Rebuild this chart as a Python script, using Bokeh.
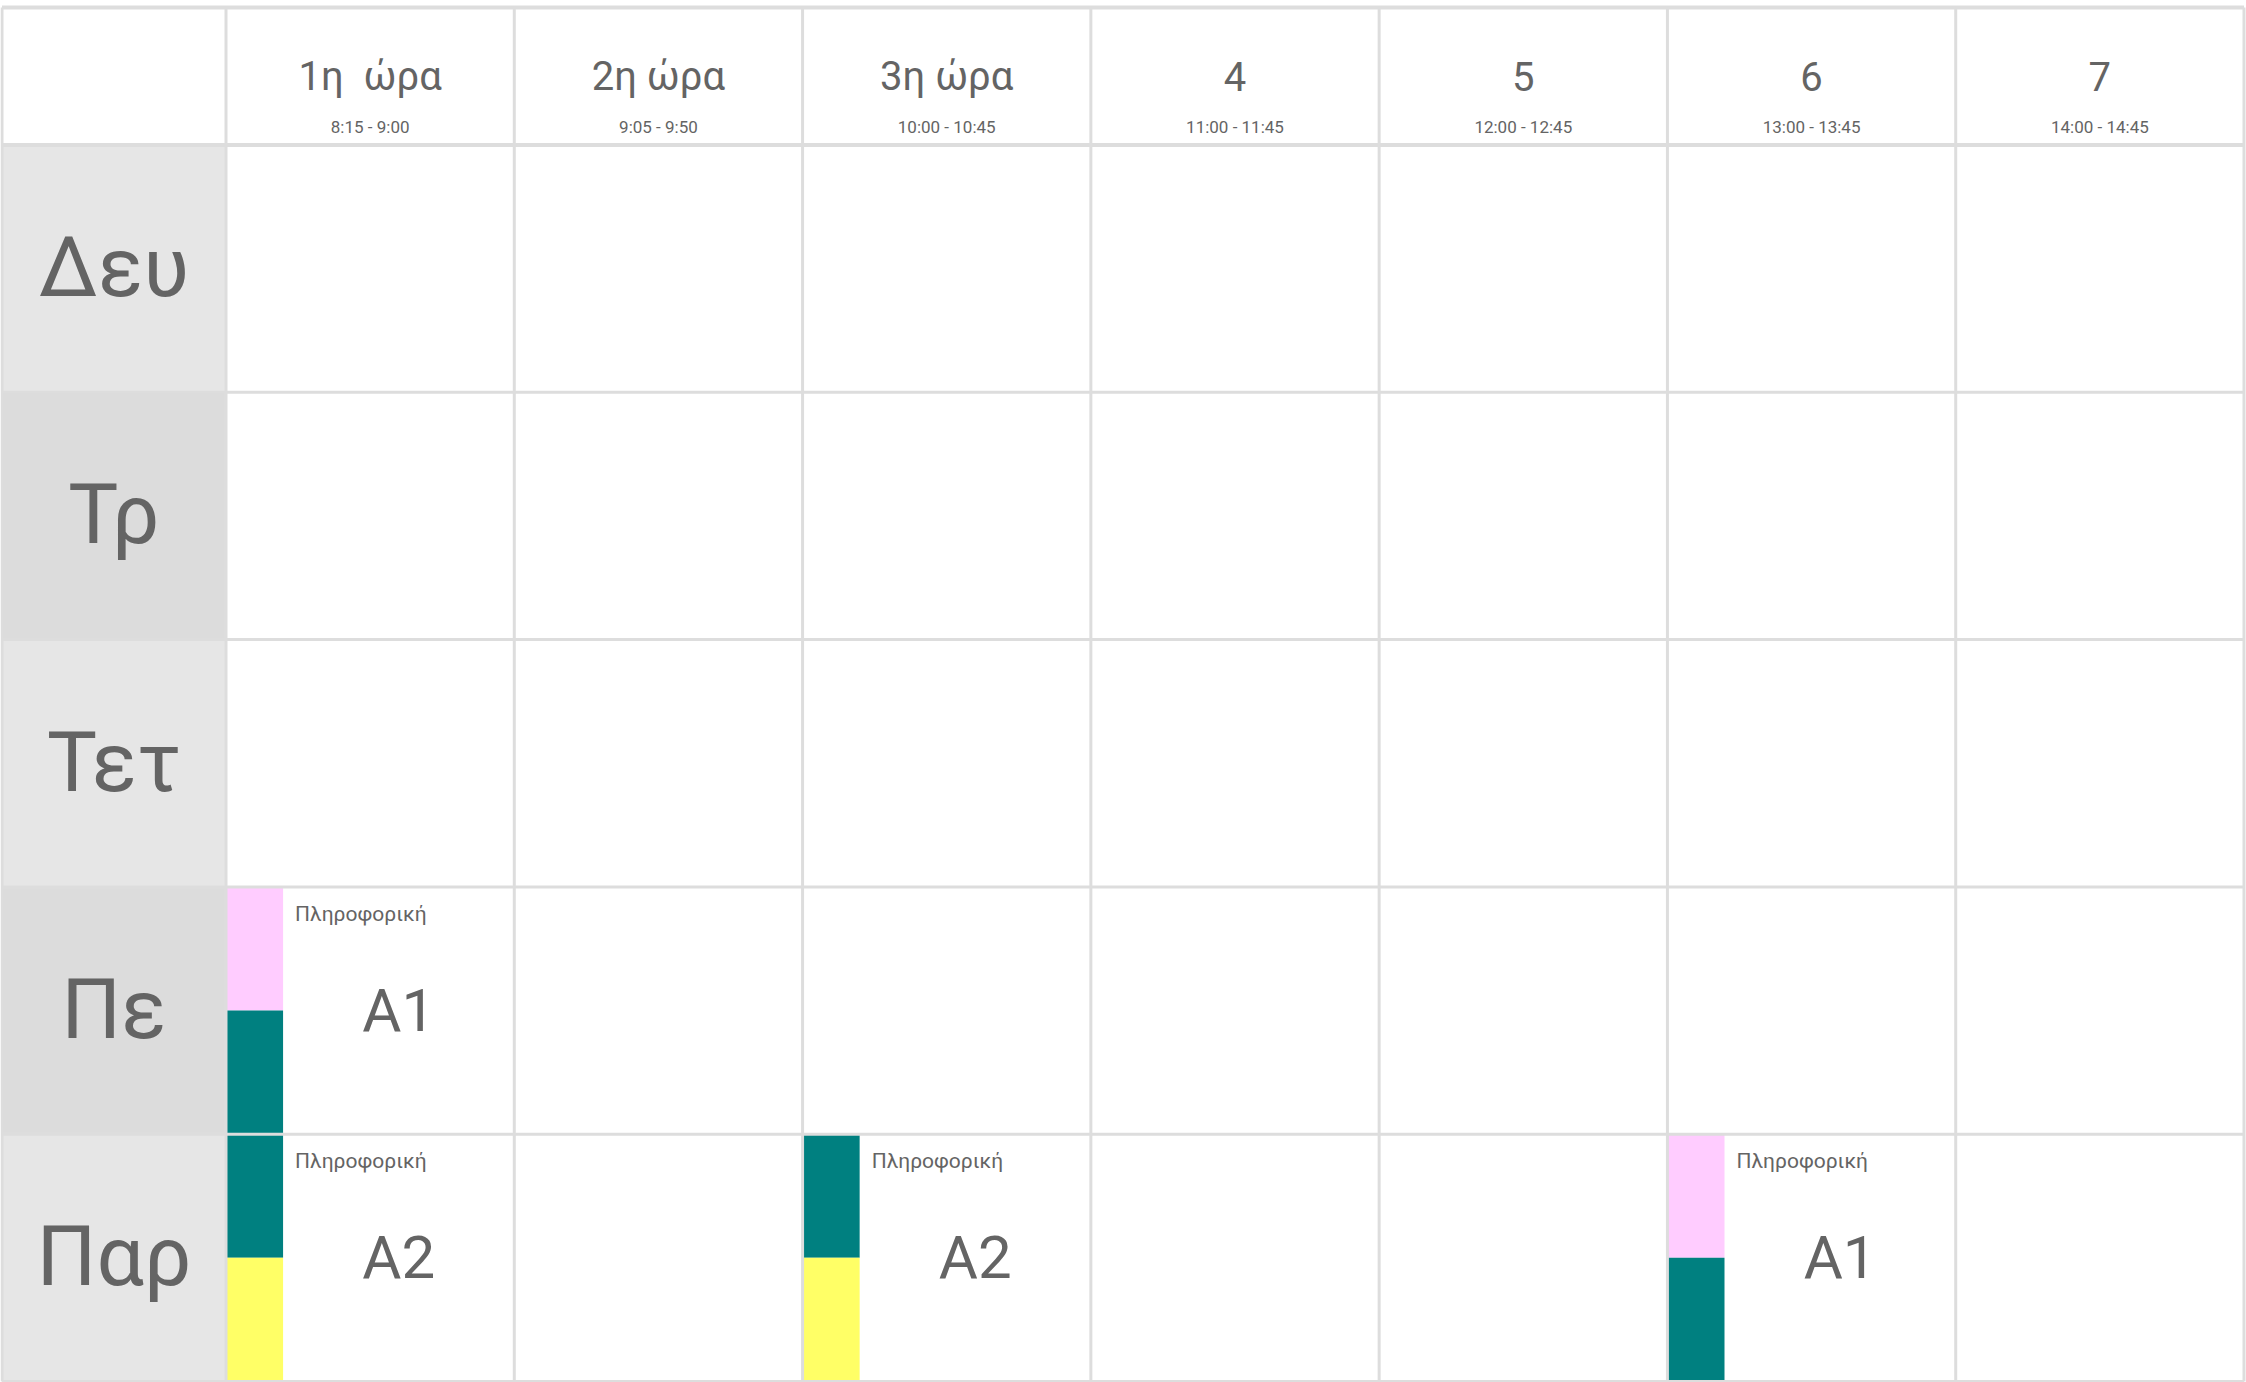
from bokeh.plotting import figure
from bokeh.models import Range1d
from bokeh.core.properties import value
from bokeh.embed import file_html
from bokeh.resources import INLINE

# ---------------- data ----------------
days = ["Δευ", "Τρ", "Τετ", "Πε", "Παρ"]
periods = ["1η\u00a0 ώρα", "2η ώρα", "3η ώρα", "4", "5", "6", "7"]
times = ["8:15 - 9:00", "9:05 - 9:50", "10:00 - 10:45", "11:00 - 11:45",
         "12:00 - 12:45", "13:00 - 13:45", "14:00 - 14:45"]

lesson_day = ["Πε", "Παρ", "Παρ", "Παρ"]
lesson_period = ["1η\u00a0 ώρα", "1η\u00a0 ώρα", "3η ώρα", "6"]
lesson_subject = ["Πληροφορική", "Πληροφορική", "Πληροφορική", "Πληροφορική"]
lesson_class = ["Α1", "Α2", "Α2", "Α1"]
lesson_color_top = ["#ffccff", "#008080", "#008080", "#ffccff"]
lesson_color_bottom = ["#008080", "#ffff66", "#ffff66", "#008080"]

# ---------------- layout ----------------
W, H = 2246, 1382
LW = 0.777     # width of the day-label column (in period units)
HH = 0.556     # height of the header row (in day-row units)
BAR = 0.198    # width of the colour bar in a lesson cell
TXT = "#646464"
LINE = "#dddddd"
FONT = value("Roboto")

n_p, n_d = len(periods), len(days)

p = figure(width=W, height=H,
           x_range=Range1d(-LW - 0.0052, n_p + 0.0087),
           y_range=Range1d(n_d + 0.004, -HH - 0.0283),
           output_backend="svg", toolbar_location=None, min_border=0)
p.axis.visible = False
p.grid.visible = False
p.outline_line_color = None
p.background_fill_color = "white"
p.border_fill_color = "white"

# day label column backgrounds (alternating greys)
lab_bg = ["#e6e6e6" if i % 2 == 0 else "#dcdcdc" for i in range(n_d)]
p.quad(left=[-LW] * n_d, right=[0] * n_d,
       top=list(range(n_d)), bottom=[i + 1 for i in range(n_d)],
       fill_color=lab_bg, line_color=None)

# lesson colour bars
li_x = [periods.index(q) for q in lesson_period]
li_y = [days.index(d) for d in lesson_day]
p.quad(left=li_x, right=[x + BAR for x in li_x],
       top=li_y, bottom=[y + 0.5 for y in li_y],
       fill_color=lesson_color_top, line_color=None)
p.quad(left=li_x, right=[x + BAR for x in li_x],
       top=[y + 0.5 for y in li_y], bottom=[y + 1 for y in li_y],
       fill_color=lesson_color_bottom, line_color=None)

# grid lines
vx = [-LW] + list(range(n_p + 1))
p.segment(x0=vx, x1=vx, y0=[-HH] * len(vx), y1=[n_d] * len(vx),
          line_color=LINE, line_width=3)
hy = list(range(n_d + 1))
p.segment(x0=[-LW] * len(hy), x1=[n_p] * len(hy), y0=hy, y1=hy,
          line_color=LINE, line_width=3)
p.segment(x0=[-LW, -LW], x1=[n_p, n_p], y0=[-HH, 0], y1=[-HH, 0],
          line_color=LINE, line_width=4)

# header texts
hx = [i + 0.5 for i in range(n_p)]
p.text(x=hx, y=[-HH / 2] * n_p, text=periods, text_font=FONT,
       text_font_size="40px", text_color=TXT, text_align="center",
       text_baseline="alphabetic", y_offset=0)
p.text(x=hx, y=[-HH / 2] * n_p, text=times, text_font=FONT,
       text_font_size="17px", text_color=TXT, text_align="center",
       text_baseline="alphabetic", y_offset=51)

# day labels
p.text(x=[-LW / 2] * n_d, y=[i + 0.5 for i in range(n_d)], text=days,
       text_font=FONT, text_font_size="84px", text_color=TXT,
       text_align="center", text_baseline="alphabetic", y_offset=-1)

# lesson texts
p.text(x=[x + BAR for x in li_x], y=li_y, text=lesson_subject,
       text_font=FONT, text_font_size="21px", text_color=TXT,
       text_align="left", text_baseline="alphabetic",
       x_offset=12, y_offset=27)
p.text(x=[x + BAR + (1 - BAR) / 2 for x in li_x], y=[y + 0.5 for y in li_y],
       text=lesson_class, text_font=FONT, text_font_size="60px",
       text_color=TXT, text_align="center", text_baseline="alphabetic",
       y_offset=0)

open("out.html", "w").write(file_html(p, INLINE))
